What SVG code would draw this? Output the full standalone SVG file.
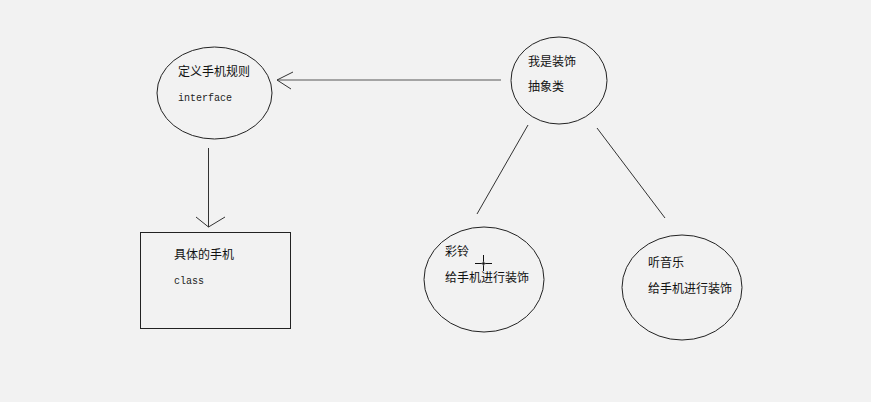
<svg xmlns="http://www.w3.org/2000/svg" width="871" height="402" viewBox="0 0 871 402">
  <style>
    .shape { fill: none; stroke: #222; stroke-width: 1; }
    .conn { fill: none; stroke: #333; stroke-width: 1; }
    .cn { font-family: "Noto Sans CJK SC", "Liberation Sans", sans-serif; font-size: 12px; fill: #111; }
    .mono { font-family: "Liberation Mono", "DejaVu Sans Mono", monospace; font-size: 10px; fill: #222; }
  </style>
  <rect x="0" y="0" width="871" height="402" fill="#f2f2f2"/>

  <!-- connectors -->
  <g id="connectors">
    <line x1="501" y1="80" x2="277" y2="80" stroke="#8a8a8a" stroke-width="1.6"/>
    <polyline class="conn" points="293,72 277,80 291,89"/>
    <line class="conn" x1="208.5" y1="148" x2="208.5" y2="227"/>
    <polyline class="conn" points="196,217 208.5,227 225,217"/>
    <line class="conn" x1="528" y1="125" x2="477" y2="214"/>
    <line class="conn" x1="597" y1="128" x2="665" y2="218"/>
  </g>

  <g id="interface">
    <ellipse class="shape" cx="214.5" cy="93" rx="57.5" ry="46"/>
    <text class="cn" x="178" y="76">定义手机规则</text>
    <text class="mono" x="178" y="101">interface</text>
  </g>

  <g id="decorator">
    <ellipse class="shape" cx="559" cy="80.5" rx="48" ry="43.5"/>
    <text class="cn" x="528" y="66">我是装饰</text>
    <text class="cn" x="528" y="91">抽象类</text>
  </g>

  <g id="phone-class">
    <rect class="shape" x="140.5" y="232.5" width="150" height="96"/>
    <text class="cn" x="174" y="259">具体的手机</text>
    <text class="mono" x="174" y="284">class</text>
  </g>

  <g id="ringtone">
    <ellipse class="shape" cx="484" cy="279.5" rx="60" ry="52.5"/>
    <text class="cn" x="445" y="256">彩铃</text>
    <text class="cn" x="445" y="282">给手机进行装饰</text>
  </g>

  <g id="music">
    <ellipse class="shape" cx="682" cy="287.5" rx="60" ry="52.5"/>
    <text class="cn" x="648" y="267">听音乐</text>
    <text class="cn" x="648" y="293">给手机进行装饰</text>
  </g>

  <!-- pointer crosshair -->
  <g id="cursor" stroke="#111" stroke-width="1" fill="none">
    <line x1="475" y1="263.5" x2="492" y2="263.5"/>
    <line x1="483.5" y1="255" x2="483.5" y2="271"/>
    <circle cx="483.5" cy="263.5" r="1.5" stroke="#777"/>
  </g>
</svg>
